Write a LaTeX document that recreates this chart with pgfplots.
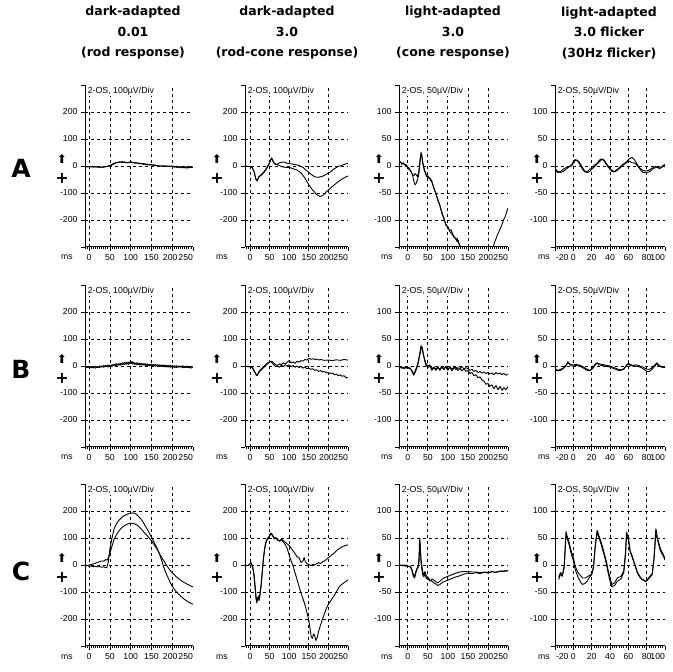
\documentclass[border=0pt]{standalone}
\usepackage{fontspec}
\setmainfont{Liberation Sans}
\newfontfamily\headfont{DejaVu Sans}
\usepackage{pgfplots}
\pgfplotsset{compat=1.18}

\newcommand{\tickfont}{\fontsize{8.7}{9}\selectfont}
% arrow, plus sign, ms and the scale text of one panel
\newcommand{\panelmarks}[3]{%
  \node[font=\headfont\fontsize{12}{12}\selectfont, inner sep=0pt, xshift=-#1, yshift=7pt] at (rel axis cs:0,0.5) {⬆};
  \node[font=\headfont\bfseries\fontsize{16}{16}\selectfont, inner sep=0pt, xshift=-#1, yshift=-12pt] at (rel axis cs:0,0.5) {+};
  \node[font=\tickfont, anchor=base, xshift=-#2, yshift=-13pt] at (rel axis cs:0,0) {ms};
  \node[font=\fontsize{8.8}{8.8}\selectfont, anchor=north west, fill=white, inner sep=0.6pt, xshift=2pt, yshift=-1.4pt] at (rel axis cs:0,1) {2-OS, #3µV/Div};
}

\pgfplotsset{
  erg/.style={
    scale only axis, height=162pt, anchor=south west,
    axis x line=bottom, axis y line=left,
    axis line style={-, line width=1pt, black},
    clip mode=individual,
    tick align=outside,
    major tick length=4pt, minor tick length=1.6pt,
    tick style={black, line width=0.8pt},
    grid=major,
    major grid style={black, line width=0.8pt, dash pattern=on 3pt off 3pt},
    ticklabel style={font=\tickfont},
    extra x tick style={grid=none},
    extra y tick style={grid=none},
  },
  big/.style={ymin=-300, ymax=300, ytick={-200,-100,0,100,200},
    yticklabels={-200,-100,0,100,200}, extra y ticks={-300,300}, extra y tick labels={}},
  small/.style={ymin=-150, ymax=150, ytick={-100,-50,0,50,100},
    yticklabels={-100,-50,0,50,100}, extra y ticks={-150,150}, extra y tick labels={}},
  slow/.style={xmax=250, xtick={0,50,...,200}, xticklabels={0,50,100,150,\makebox[0pt]{\hspace{-4pt}200}},
    extra x ticks={250}, extra x tick labels={\makebox[0pt][r]{250}}},
  c1/.style={erg, big, slow, at={(85pt,#1)}, width=108pt, xmin=-10, minor xtick={-10,-5,...,250}},
  c2/.style={erg, big, slow, at={(245pt,#1)}, width=103pt, xmin=-13, minor xtick={-10,-5,...,250}},
  c3/.style={erg, small, slow, at={(399pt,#1)}, width=109pt, xmin=-22, minor xtick={-20,-15,...,250}},
  c4/.style={erg, small, at={(555pt,#1)}, width=110pt, xmin=-20, xmax=100,
    xtick={0,20,...,80}, xticklabels={0,20,40,60,80},
    extra x ticks={-20,100}, extra x tick labels={\makebox[0pt][l]{\hspace{1pt}-20},\makebox[0pt][r]{100}},
    minor xtick={-20,-17.5,...,100}},
  tr/.style={black, line width=0.9pt, line join=round},
}

\begin{document}
\begin{tikzpicture}
\path[use as bounding box] (0,0) rectangle (672pt,672pt);

% ---------------- row A ----------------
\begin{axis}[c1={425pt}]
\addplot[tr] coordinates {(-10,-2)(0,-3)(10,-2)(20,-4)(30,-4)(40,-2)(50,0)(55,4)(60,8)(65,12)(70,15)(75,14)(80,16)(85,13)(90,14)(95,12)(100,16)(105,12)(110,13)(115,10)(120,11)(125,8)(130,9)(135,6)(140,7)(145,4)(150,5)(160,2)(170,0)(180,-1)(190,0)(200,-2)(205,-4)(210,-1)(215,-6)(220,-3)(225,-7)(230,-2)(235,-8)(240,-3)(245,-6)(250,-4)};
\addplot[tr] coordinates {(-10,-4)(0,-2)(10,-4)(20,-3)(30,-5)(40,-3)(50,2)(55,6)(60,10)(65,13)(70,12)(75,16)(80,13)(85,15)(90,11)(95,14)(100,12)(105,14)(110,10)(115,12)(120,8)(125,10)(130,6)(135,8)(140,4)(145,6)(150,3)(160,3)(170,-1)(180,1)(190,-2)(200,0)(205,-2)(210,-5)(215,-2)(220,-6)(225,-2)(230,-7)(235,-3)(240,-7)(245,-2)(250,-5)};
\panelmarks{23pt}{18pt}{100}
\end{axis}

\begin{axis}[c2={425pt}]
\addplot[tr] coordinates {(-13,0)(-5,-2)(0,-3)(5,-5)(10,-20)(15,-50)(18,-55)(22,-40)(28,-35)(35,-25)(42,-10)(48,5)(52,20)(55,30)(58,20)(62,10)(70,5)(80,-2)(90,-5)(100,-5)(110,-10)(120,-15)(130,-25)(140,-45)(150,-70)(160,-90)(170,-105)(178,-113)(185,-110)(195,-95)(205,-82)(215,-70)(225,-58)(235,-48)(245,-40)(250,-37)};
\addplot[tr] coordinates {(-13,0)(0,-2)(5,-5)(10,-20)(15,-50)(18,-55)(22,-42)(28,-32)(35,-22)(42,-8)(48,8)(52,22)(55,28)(58,18)(62,8)(68,5)(75,12)(85,15)(95,10)(105,8)(115,5)(125,2)(135,-5)(145,-18)(155,-30)(165,-40)(175,-42)(185,-38)(195,-30)(205,-22)(215,-10)(225,-2)(235,3)(245,8)(250,10)};
\panelmarks{28pt}{23pt}{100}
\end{axis}

\begin{axis}[c3={425pt}]
\addplot[tr] coordinates {(-22,8)(-18,7)(-15,4)(-12,5)(-8,2)(-5,3)(-2,0)(0,-2)(3,-4)(6,-8)(9,-12)(12,-18)(15,-28)(18,-35)(21,-32)(24,-25)(27,-18)(29,-5)(31,12)(33,26)(35,18)(37,5)(40,-5)(43,-12)(47,-20)(50,-18)(55,-24)(60,-30)(65,-40)(70,-52)(75,-62)(80,-74)(85,-86)(90,-98)(95,-108)(100,-114)(105,-120)(108,-118)(112,-126)(115,-130)(120,-136)(123,-134)(126,-142)(130,-147)(135,-155)(150,-180)(180,-200)(200,-180)(210,-160)(213,-150)(217,-140)(220,-135)(223,-128)(226,-124)(230,-117)(233,-112)(236,-106)(240,-98)(243,-94)(247,-84)(250,-78)};
\addplot[tr] coordinates {(-22,6)(-18,8)(-15,3)(-12,6)(-8,3)(-5,1)(-2,-1)(0,-3)(3,-6)(6,-8)(9,-12)(12,-16)(15,-18)(18,-14)(21,-16)(24,-20)(27,-12)(29,0)(31,15)(33,22)(35,20)(37,8)(40,-2)(43,-10)(47,-18)(50,-22)(55,-22)(60,-28)(65,-42)(70,-50)(75,-64)(80,-72)(85,-88)(90,-96)(95,-110)(100,-112)(105,-122)(108,-124)(112,-128)(115,-132)(120,-134)(123,-140)(126,-138)(130,-150)(135,-152)(140,-162)(160,-200)};
\panelmarks{20pt}{12pt}{50}
\end{axis}

\begin{axis}[c4={425pt}]
\addplot[tr] coordinates {(-20,-5)(-17,-10)(-14,-12)(-11,-10)(-8,-6)(-5,-2)(-2,2)(0,8)(2,12)(4,10)(6,6)(8,0)(10,-6)(12,-10)(14,-11)(16,-9)(18,-6)(20,-3)(22,0)(24,3)(26,5)(28,10)(30,13)(32,12)(34,8)(36,3)(38,-2)(40,-6)(42,-10)(44,-11)(46,-9)(48,-6)(50,-3)(52,0)(54,3)(56,5)(58,8)(60,12)(62,14)(64,16)(66,13)(68,8)(70,2)(72,-4)(74,-9)(76,-12)(78,-12)(80,-12)(82,-11)(84,-10)(86,-6)(88,-4)(90,-3)(92,-2)(94,-4)(96,-3)(98,0)(100,3)};
\addplot[tr] coordinates {(-20,-8)(-17,-12)(-14,-10)(-11,-6)(-8,-3)(-5,-1)(-2,0)(0,5)(2,10)(4,11)(6,8)(8,3)(10,-3)(12,-8)(14,-12)(16,-12)(18,-10)(20,-6)(22,-3)(24,0)(26,4)(28,7)(30,10)(32,13)(34,10)(36,5)(38,0)(40,-4)(42,-8)(44,-10)(46,-10)(48,-8)(50,-5)(52,-2)(54,1)(56,4)(58,6)(60,9)(62,8)(64,6)(66,6)(68,4)(70,0)(72,-3)(74,-6)(76,-8)(78,-9)(80,-9)(82,-8)(84,-6)(86,-4)(88,-2)(90,-1)(92,-3)(94,-5)(96,-2)(98,1)(100,2)};
\panelmarks{18pt}{11pt}{50}
\end{axis}

% ---------------- row B ----------------
\begin{axis}[c1={225pt}]
\addplot[tr] coordinates {(-10,-2)(-5,-6)(0,-1)(5,-7)(10,-3)(15,-8)(20,-2)(25,-6)(30,0)(35,-5)(40,2)(45,-4)(50,3)(55,-2)(60,6)(65,1)(70,8)(75,3)(80,12)(85,5)(90,14)(95,6)(100,18)(105,7)(110,12)(115,4)(120,11)(125,3)(130,9)(135,2)(140,8)(145,0)(150,7)(155,-1)(160,6)(165,-2)(170,5)(175,-3)(180,4)(185,-4)(190,3)(195,-5)(200,2)(205,-6)(210,1)(215,-5)(220,0)(225,-7)(230,-1)(235,-6)(240,-2)(245,-8)(250,-4)};
\addplot[tr] coordinates {(-10,-5)(-5,-1)(0,-6)(5,-2)(10,-7)(15,-1)(20,-6)(25,0)(30,-4)(35,2)(40,-3)(45,4)(50,-1)(55,5)(60,2)(65,9)(70,3)(75,10)(80,4)(85,13)(90,6)(95,15)(100,8)(105,16)(110,6)(115,12)(120,4)(125,10)(130,3)(135,9)(140,1)(145,7)(150,0)(155,6)(160,-1)(165,5)(170,-2)(175,4)(180,-3)(185,3)(190,-4)(195,2)(200,-5)(205,1)(210,-6)(215,0)(220,-4)(225,1)(230,-6)(235,0)(240,-7)(245,-1)(250,-5)};
\panelmarks{23pt}{18pt}{100}
\end{axis}

\begin{axis}[c2={225pt}]
\addplot[tr] coordinates {(-13,0)(-5,-2)(0,-3)(5,-5)(10,-15)(15,-30)(18,-35)(22,-25)(28,-15)(35,-5)(42,5)(50,15)(55,18)(60,12)(65,5)(70,2)(75,8)(80,5)(85,12)(90,8)(95,15)(100,20)(105,12)(110,15)(115,10)(120,18)(125,14)(130,20)(135,18)(140,24)(145,22)(150,28)(155,25)(160,27)(165,24)(170,26)(175,22)(180,24)(190,21)(200,22)(210,20)(220,23)(230,21)(240,24)(250,22)};
\addplot[tr] coordinates {(-13,0)(-5,-3)(0,-2)(5,-6)(10,-18)(15,-32)(18,-36)(22,-22)(28,-12)(35,-2)(42,8)(50,17)(55,14)(60,5)(65,-2)(70,0)(75,-5)(80,3)(85,-2)(90,5)(95,0)(100,4)(105,-3)(110,2)(115,-5)(120,0)(125,-6)(130,-2)(135,-8)(140,-4)(145,-10)(150,-8)(155,-12)(160,-10)(165,-16)(170,-14)(175,-20)(180,-17)(185,-22)(190,-20)(195,-26)(200,-24)(205,-28)(210,-26)(215,-32)(220,-30)(225,-36)(230,-33)(235,-38)(240,-36)(245,-44)(250,-42)};
\panelmarks{28pt}{23pt}{100}
\end{axis}

\begin{axis}[c3={225pt}]
\addplot[tr] coordinates {(-22,-2)(-15,-4)(-10,-2)(-5,-4)(0,-3)(5,-5)(10,-8)(15,-15)(18,-10)(22,-2)(26,8)(30,25)(33,38)(36,30)(39,20)(42,12)(45,5)(50,0)(55,2)(60,-5)(65,-2)(70,-8)(75,-3)(80,-6)(85,0)(90,-5)(95,-2)(100,-8)(105,-1)(110,-6)(115,-2)(120,-7)(125,-3)(130,-5)(135,-1)(140,-6)(145,-3)(150,-5)(155,-8)(160,-6)(165,-10)(170,-8)(175,-12)(180,-10)(185,-13)(190,-11)(195,-14)(200,-12)(205,-15)(210,-13)(215,-16)(220,-12)(225,-15)(230,-13)(235,-16)(240,-14)(245,-17)(250,-15)};
\addplot[tr] coordinates {(-22,-3)(-15,-2)(-10,-5)(-5,-2)(0,-4)(5,-3)(10,-10)(15,-17)(18,-12)(22,-5)(26,5)(30,20)(33,32)(36,35)(39,22)(42,10)(45,2)(50,-3)(55,0)(60,-8)(65,-3)(70,-6)(75,-1)(80,-8)(85,-2)(90,-7)(95,0)(100,-5)(105,-3)(110,-9)(115,-4)(120,-2)(125,-8)(130,-4)(135,-9)(140,-5)(145,-10)(150,-8)(155,-14)(160,-12)(165,-18)(170,-16)(175,-22)(180,-20)(185,-26)(190,-28)(195,-34)(200,-32)(205,-38)(210,-35)(215,-42)(220,-36)(225,-44)(230,-38)(235,-45)(240,-40)(245,-44)(250,-38)};
\panelmarks{20pt}{12pt}{50}
\end{axis}

\begin{axis}[c4={225pt}]
\addplot[tr] coordinates {(-20,-5)(-17,-8)(-14,-8)(-11,-5)(-8,0)(-6,8)(-4,4)(-2,2)(0,2)(3,3)(6,2)(9,0)(12,-3)(15,-6)(18,-8)(21,-5)(24,2)(26,6)(28,4)(31,3)(34,2)(37,1)(40,0)(43,-2)(46,-4)(49,-6)(52,-7)(55,-5)(58,0)(60,5)(62,3)(65,1)(68,2)(71,1)(74,-1)(77,-3)(80,-6)(83,-6)(86,-3)(89,2)(91,6)(93,2)(96,-1)(100,-2)};
\addplot[tr] coordinates {(-20,-8)(-17,-9)(-14,-6)(-11,-4)(-8,2)(-6,6)(-4,3)(-2,0)(0,0)(3,1)(6,0)(9,-2)(12,-5)(15,-8)(18,-9)(21,-3)(24,4)(26,5)(28,2)(31,1)(34,0)(37,-1)(40,-2)(43,-4)(46,-6)(49,-8)(52,-8)(55,-6)(58,2)(60,4)(62,1)(65,0)(68,0)(71,-1)(74,-3)(77,-6)(80,-10)(83,-10)(86,-6)(89,0)(91,4)(93,1)(96,-2)(100,-3)};
\panelmarks{18pt}{11pt}{50}
\end{axis}

% ---------------- row C ----------------
\begin{axis}[c1={26pt}]
\addplot[tr] coordinates {(-10,-3)(-5,-2)(0,-5)(5,-4)(10,-6)(15,-5)(20,-7)(25,-6)(30,-8)(35,-7)(40,-10)(43,-8)(46,10)(50,60)(55,100)(60,134)(65,150)(70,162)(75,171)(80,178)(85,183)(90,187)(95,190)(100,192)(105,193)(110,191)(115,186)(120,178)(125,170)(130,158)(135,145)(140,132)(145,118)(150,103)(155,88)(160,73)(165,57)(170,38)(175,15)(180,-10)(185,-30)(190,-47)(195,-64)(200,-79)(210,-100)(220,-115)(230,-128)(240,-138)(245,-142)(250,-145)};
\addplot[tr] coordinates {(-10,-3)(-5,-1)(0,0)(5,2)(10,4)(15,6)(20,10)(25,12)(30,15)(35,14)(40,20)(43,18)(46,25)(50,45)(55,70)(60,95)(65,110)(70,122)(75,133)(80,140)(85,146)(90,150)(95,153)(100,155)(105,154)(110,152)(115,148)(120,142)(125,134)(130,125)(135,116)(140,108)(145,99)(150,90)(155,78)(160,67)(165,55)(170,40)(175,27)(180,15)(185,2)(190,-9)(195,-20)(200,-29)(210,-44)(220,-56)(230,-66)(240,-74)(245,-78)(250,-81)};
\panelmarks{23pt}{18pt}{100}
\end{axis}

\begin{axis}[c2={26pt}]
\addplot[tr] coordinates {(-13,0)(-8,-3)(-4,-1)(0,3)(2,8)(4,2)(7,-10)(10,-40)(13,-90)(15,-125)(17,-140)(19,-128)(21,-120)(23,-132)(25,-115)(28,-80)(31,-30)(34,20)(37,55)(40,80)(44,95)(48,100)(52,112)(55,116)(58,110)(62,100)(66,98)(70,95)(75,90)(80,92)(85,85)(90,75)(95,60)(100,35)(105,15)(110,-5)(115,-30)(120,-54)(125,-80)(130,-104)(135,-125)(140,-147)(145,-175)(150,-205)(153,-235)(156,-265)(159,-272)(162,-255)(165,-262)(168,-280)(171,-270)(175,-245)(180,-222)(185,-200)(190,-180)(195,-160)(200,-145)(207,-130)(215,-112)(222,-95)(229,-78)(236,-70)(243,-62)(250,-55)};
\addplot[tr] coordinates {(-13,0)(-8,-2)(-4,0)(0,5)(2,10)(4,3)(7,-8)(10,-35)(13,-80)(15,-115)(17,-130)(19,-125)(21,-115)(23,-125)(25,-108)(28,-75)(31,-25)(34,25)(37,60)(40,85)(44,98)(48,105)(52,118)(55,114)(58,106)(62,96)(66,102)(70,92)(75,88)(80,96)(85,90)(90,84)(95,78)(100,71)(105,62)(110,52)(115,42)(120,30)(125,27)(130,9)(135,15)(138,28)(141,12)(145,5)(150,2)(155,-2)(160,2)(165,0)(170,5)(175,9)(180,5)(185,12)(190,15)(195,21)(200,27)(207,35)(215,45)(222,55)(229,62)(236,68)(243,72)(250,75)};
\panelmarks{28pt}{23pt}{100}
\end{axis}

\begin{axis}[c3={26pt}]
\addplot[tr] coordinates {(-22,0)(-15,-1)(-10,0)(-5,-2)(0,-2)(5,-3)(8,-6)(11,-12)(14,-22)(17,-20)(20,-12)(23,-6)(26,-2)(28,15)(29,40)(30,50)(31,30)(33,5)(35,-8)(37,-18)(40,-22)(43,-15)(46,-25)(50,-22)(55,-28)(60,-30)(65,-33)(70,-35)(75,-38)(80,-36)(85,-33)(90,-31)(100,-28)(110,-25)(120,-22)(130,-20)(140,-17)(150,-15)(160,-16)(170,-14)(180,-16)(190,-13)(200,-15)(210,-12)(220,-14)(230,-11)(240,-12)(250,-10)};
\addplot[tr] coordinates {(-22,-1)(-15,0)(-10,-2)(-5,0)(0,-3)(5,-2)(8,-4)(11,-10)(14,-18)(17,-24)(20,-15)(23,-8)(26,-4)(28,5)(29,25)(30,45)(31,35)(33,10)(35,-2)(37,-12)(40,-18)(43,-12)(46,-20)(50,-25)(55,-30)(60,-26)(65,-28)(70,-31)(75,-33)(80,-30)(85,-27)(90,-24)(100,-21)(110,-18)(120,-15)(130,-13)(140,-12)(150,-12)(160,-13)(170,-13)(180,-14)(190,-14)(200,-13)(210,-13)(220,-13)(230,-12)(240,-11)(250,-11)};
\panelmarks{20pt}{12pt}{50}
\end{axis}

\begin{axis}[c4={26pt}]
\addplot[tr] coordinates {(-16,-27)(-14,-17)(-12,-21)(-10,-5)(-9,30)(-8,62)(-7,55)(-5,45)(-3,30)(0,14)(2,-2)(5,-14)(8,-20)(10,-24)(13,-24)(15,-22)(18,-19)(20,-17)(22,-5)(24,39)(26,64)(28,54)(30,44)(32,33)(34,20)(36,7)(38,-10)(40,-24)(42,-36)(45,-33)(48,-24)(52,-21)(55,-11)(57,26)(58,61)(60,51)(62,26)(64,18)(66,7)(68,-3)(70,-14)(73,-22)(75,-27)(79,-31)(82,-24)(85,-18)(86,-17)(88,14)(90,67)(91,60)(92,45)(95,26)(98,17)(100,9)};
\addplot[tr] coordinates {(-16,-22)(-14,-14)(-12,-18)(-10,-2)(-9,25)(-8,55)(-7,50)(-5,40)(-3,25)(0,8)(2,-8)(5,-22)(8,-32)(10,-36)(13,-34)(15,-30)(18,-22)(20,-18)(22,-2)(24,35)(26,60)(28,50)(30,40)(32,28)(34,16)(36,2)(38,-15)(40,-30)(42,-40)(45,-38)(48,-30)(52,-26)(55,-14)(57,20)(58,55)(60,48)(62,24)(64,15)(66,5)(68,-5)(70,-15)(73,-24)(75,-26)(79,-30)(82,-26)(85,-20)(86,-18)(88,10)(90,58)(91,52)(92,48)(95,30)(98,20)(100,12)};
\panelmarks{18pt}{11pt}{50}
\end{axis}

% ---------------- titles and row letters ----------------
\begin{scope}[every node/.style={font=\headfont\bfseries\fontsize{12.5}{20.5}\selectfont, align=center}]
\node at (133pt,639pt) {dark-adapted\\0.01\\(rod response)};
\node at (287pt,639pt) {dark-adapted\\3.0\\(rod-cone response)};
\node at (453pt,639pt) {light-adapted\\3.0\\(cone response)};
\node at (609pt,639pt) {light-adapted\\3.0 flicker\\(30Hz flicker)};
\end{scope}
\begin{scope}[every node/.style={font=\headfont\bfseries\fontsize{25}{25}\selectfont}]
\node at (21pt,504pt) {A};
\node at (21pt,303pt) {B};
\node at (21pt,101pt) {C};
\end{scope}
\end{tikzpicture}
\end{document}
